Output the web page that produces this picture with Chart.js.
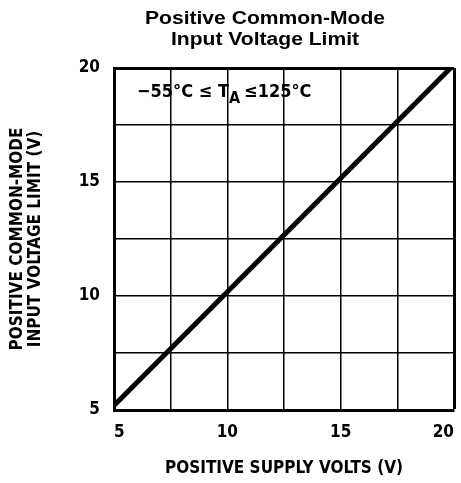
<!DOCTYPE html>
<html>
<head>
<meta charset="utf-8">
<script src="https://cdn.jsdelivr.net/npm/chart.js@4"></script>
<style>
  html, body { margin: 0; padding: 0; background: #fff; }
  #wrap { width: 461px; height: 483px; }
</style>
</head>
<body>
<div id="wrap"><canvas id="chart" width="461" height="483"></canvas></div>
<script>
// data
const supplyVolts = [5, 19.85];
const limitVolts = [5.2, 20];
const xTicks = [5, 10, 15, 20];
const yTicks = [5, 10, 15, 20];
const gridSteps = [5, 7.5, 10, 12.5, 15, 17.5, 20];
const titleLines = ["Positive Common-Mode", "Input Voltage Limit"];
const xTitle = "POSITIVE SUPPLY VOLTS (V)";
const yTitle = ["POSITIVE COMMON-MODE", "INPUT VOLTAGE LIMIT (V)"];

const narrow = "'Liberation Sans Narrow', 'DejaVu Sans Condensed', 'DejaVu Sans', sans-serif";

// 제목과 온도 범위 표시
const textPlugin = {
    id: "texts",
    afterDraw(chart) {
        const c = chart.ctx;
        c.save();
        c.fillStyle = "#000";
        c.textAlign = "center";
        c.textBaseline = "middle";
        c.font = "bold 18px 'Liberation Sans', Arial, sans-serif";
        const w = c.measureText(titleLines[0]).width;
        const sx = 240 / w;
        c.save();
        c.translate(265, 0);
        c.scale(sx, 1);
        c.fillText(titleLines[0], 0, 19);
        c.fillText(titleLines[1], 0, 40);
        c.restore();

        // -55°C ≤ TA ≤ 125°C
        c.textAlign = "left";
        c.textBaseline = "alphabetic";
        c.font = "bold 18px " + narrow;
        let x = 137;
        const y = 97;
        const part1 = "\u221255\u00B0C \u2264 T";
        c.fillText(part1, x, y);
        x += c.measureText(part1).width;
        c.font = "bold 16px " + narrow;
        c.fillText("A", x, y + 6);
        x += c.measureText("A").width + 4;
        c.font = "bold 18px " + narrow;
        c.fillText("\u2264125\u00B0C", x, y);
        c.restore();
    }
};

const points = supplyVolts.map((v, i) => ({ x: v, y: limitVolts[i] }));

new Chart(document.getElementById("chart"), {
    type: "line",
    data: {
        datasets: [{
            data: points,
            borderColor: "#000",
            borderWidth: 5,
            pointRadius: 0,
            borderCapStyle: "butt"
        }]
    },
    options: {
        responsive: false,
        animation: false,
        layout: { padding: { top: 68, right: 7, left: 0, bottom: 0 } },
        plugins: {
            legend: { display: false },
            tooltip: { enabled: false }
        },
        scales: {
            x: {
                type: "linear",
                min: 5,
                max: 20,
                afterBuildTicks: (s) => {
                    s.ticks = gridSteps.map(v => ({ value: v }));
                },
                afterFit: (s) => {
                    s.height = 73;
                    s.paddingLeft = 0;
                    s.paddingRight = 0;
                },
                ticks: {
                    color: "#000",
                    padding: 12,
                    maxRotation: 0,
                    align: "inner",
                    font: { family: narrow, weight: "bold", size: 17 },
                    callback: (v) => xTicks.includes(v) ? String(v) : ""
                },
                grid: {
                    color: "#000",
                    drawTicks: false,
                    lineWidth: (ctx) => (ctx.tick && ctx.tick.value === 20) ? 3 : 1.5
                },
                border: { color: "#000", width: 3 },
                title: {
                    display: true,
                    text: xTitle,
                    color: "#000",
                    padding: { top: 12 },
                    font: { family: narrow, weight: "bold", size: 17 }
                }
            },
            y: {
                type: "linear",
                min: 5,
                max: 20,
                afterBuildTicks: (s) => {
                    s.ticks = gridSteps.map(v => ({ value: v }));
                },
                afterFit: (s) => {
                    s.width = 114;
                    s.paddingTop = 0;
                    s.paddingBottom = 0;
                },
                ticks: {
                    color: "#000",
                    padding: 14,
                    font: { family: narrow, weight: "bold", size: 17 },
                    callback: (v) => yTicks.includes(v) ? String(v) : ""
                },
                grid: {
                    color: "#000",
                    drawTicks: false,
                    lineWidth: (ctx) => (ctx.tick && ctx.tick.value === 20) ? 3 : 1.5
                },
                border: { color: "#000", width: 3 },
                title: {
                    display: true,
                    text: yTitle,
                    color: "#000",
                    padding: { top: 8, bottom: 0 },
                    font: { family: narrow, weight: "bold", size: 17, lineHeight: 1.1 }
                }
            }
        }
    },
    plugins: [textPlugin]
});
</script>
</body>
</html>
